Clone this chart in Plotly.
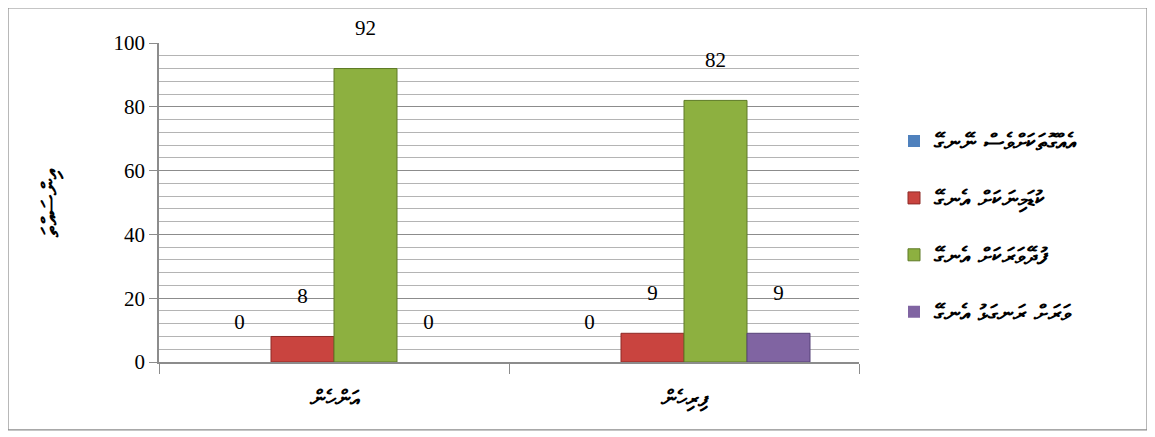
import plotly.graph_objects as go

# categorías (eje X) y series
categorias = ["އަންހެން", "ފިރިހެން"]
series = ["އެއްގޮތަކަށްވެސް ނޭނގޭ", "ކުޑަމިނަކަށް އެނގޭ", "ފުދޭވަރަކަށް އެނގޭ", "ވަރަށް ރަނގަޅު އެނގޭ"]
valores_azul = [0, 0]
valores_rojo = [8, 9]
valores_verde = [92, 82]
valores_morado = [0, 9]
titulo_y = "އިންސައްތަ"

colores = ["#4F81BD", "#C9443F", "#8DB040", "#8064A2"]
bordes = ["#2F5A8C", "#8E2A27", "#5E7A26", "#574378"]
fuente_num = "Liberation Serif, Times New Roman, serif"
fuente_dv = "DejaVu Sans, sans-serif"

fig = go.Figure()
for i, (nombre, vals) in enumerate(zip(series, [valores_azul, valores_rojo, valores_verde, valores_morado])):
    fig.add_trace(go.Bar(
        x=categorias, y=vals, name=nombre, legendgroup=f"g{i}",
        marker=dict(color=colores[i], line=dict(color=bordes[i], width=[1 if v else 0 for v in vals])),
        text=vals, texttemplate="%{y}<br><span style='font-size:12px'> </span>", textposition="outside",
        textfont=dict(family=fuente_num, size=21, color="black"),
        cliponaxis=False,
    ))

fig.update_layout(
    width=1155, height=437,
    barmode="group", bargap=0.28, bargroupgap=0,
    plot_bgcolor="white", paper_bgcolor="white",
    margin=dict(l=151, r=304, t=35, b=83),
    showlegend=True,
    legend=dict(x=1.05, y=0.76, xanchor="left", yanchor="top",
                font=dict(family=fuente_dv, size=23, color="black", weight="bold"),
                tracegroupgap=24, itemwidth=30, traceorder="grouped"),
    xaxis=dict(
        showline=True, linecolor="#8c8c8c", linewidth=1.5,
        ticks="outside", tickson="boundaries", ticklen=10, tickcolor="#8c8c8c",
        ticklabelstandoff=16,
        tickfont=dict(family=fuente_dv, size=22, color="black", weight="bold"),
    ),
    yaxis=dict(
        range=[0, 100], dtick=20,
        showline=True, linecolor="#8c8c8c", linewidth=1.5,
        ticks="outside", ticklen=8, tickcolor="#8c8c8c",
        tickfont=dict(family=fuente_num, size=21, color="black"),
        showgrid=True, gridcolor="#8c8c8c", gridwidth=1.2,
        minor=dict(dtick=4, showgrid=True, gridcolor="#b4b4b4", gridwidth=1),
        zeroline=False,
        title=dict(text=titulo_y, font=dict(family=fuente_dv, size=23, color="black", weight="bold"), standoff=48),
    ),
    shapes=[dict(type="rect", xref="paper", yref="paper",
                 x0=-0.2157, x1=1.4114, y0=-0.213, y1=1.1097,
                 line=dict(color="#8c8c8c", width=1.2), layer="below")],
)

fig.write_html("out.html")
